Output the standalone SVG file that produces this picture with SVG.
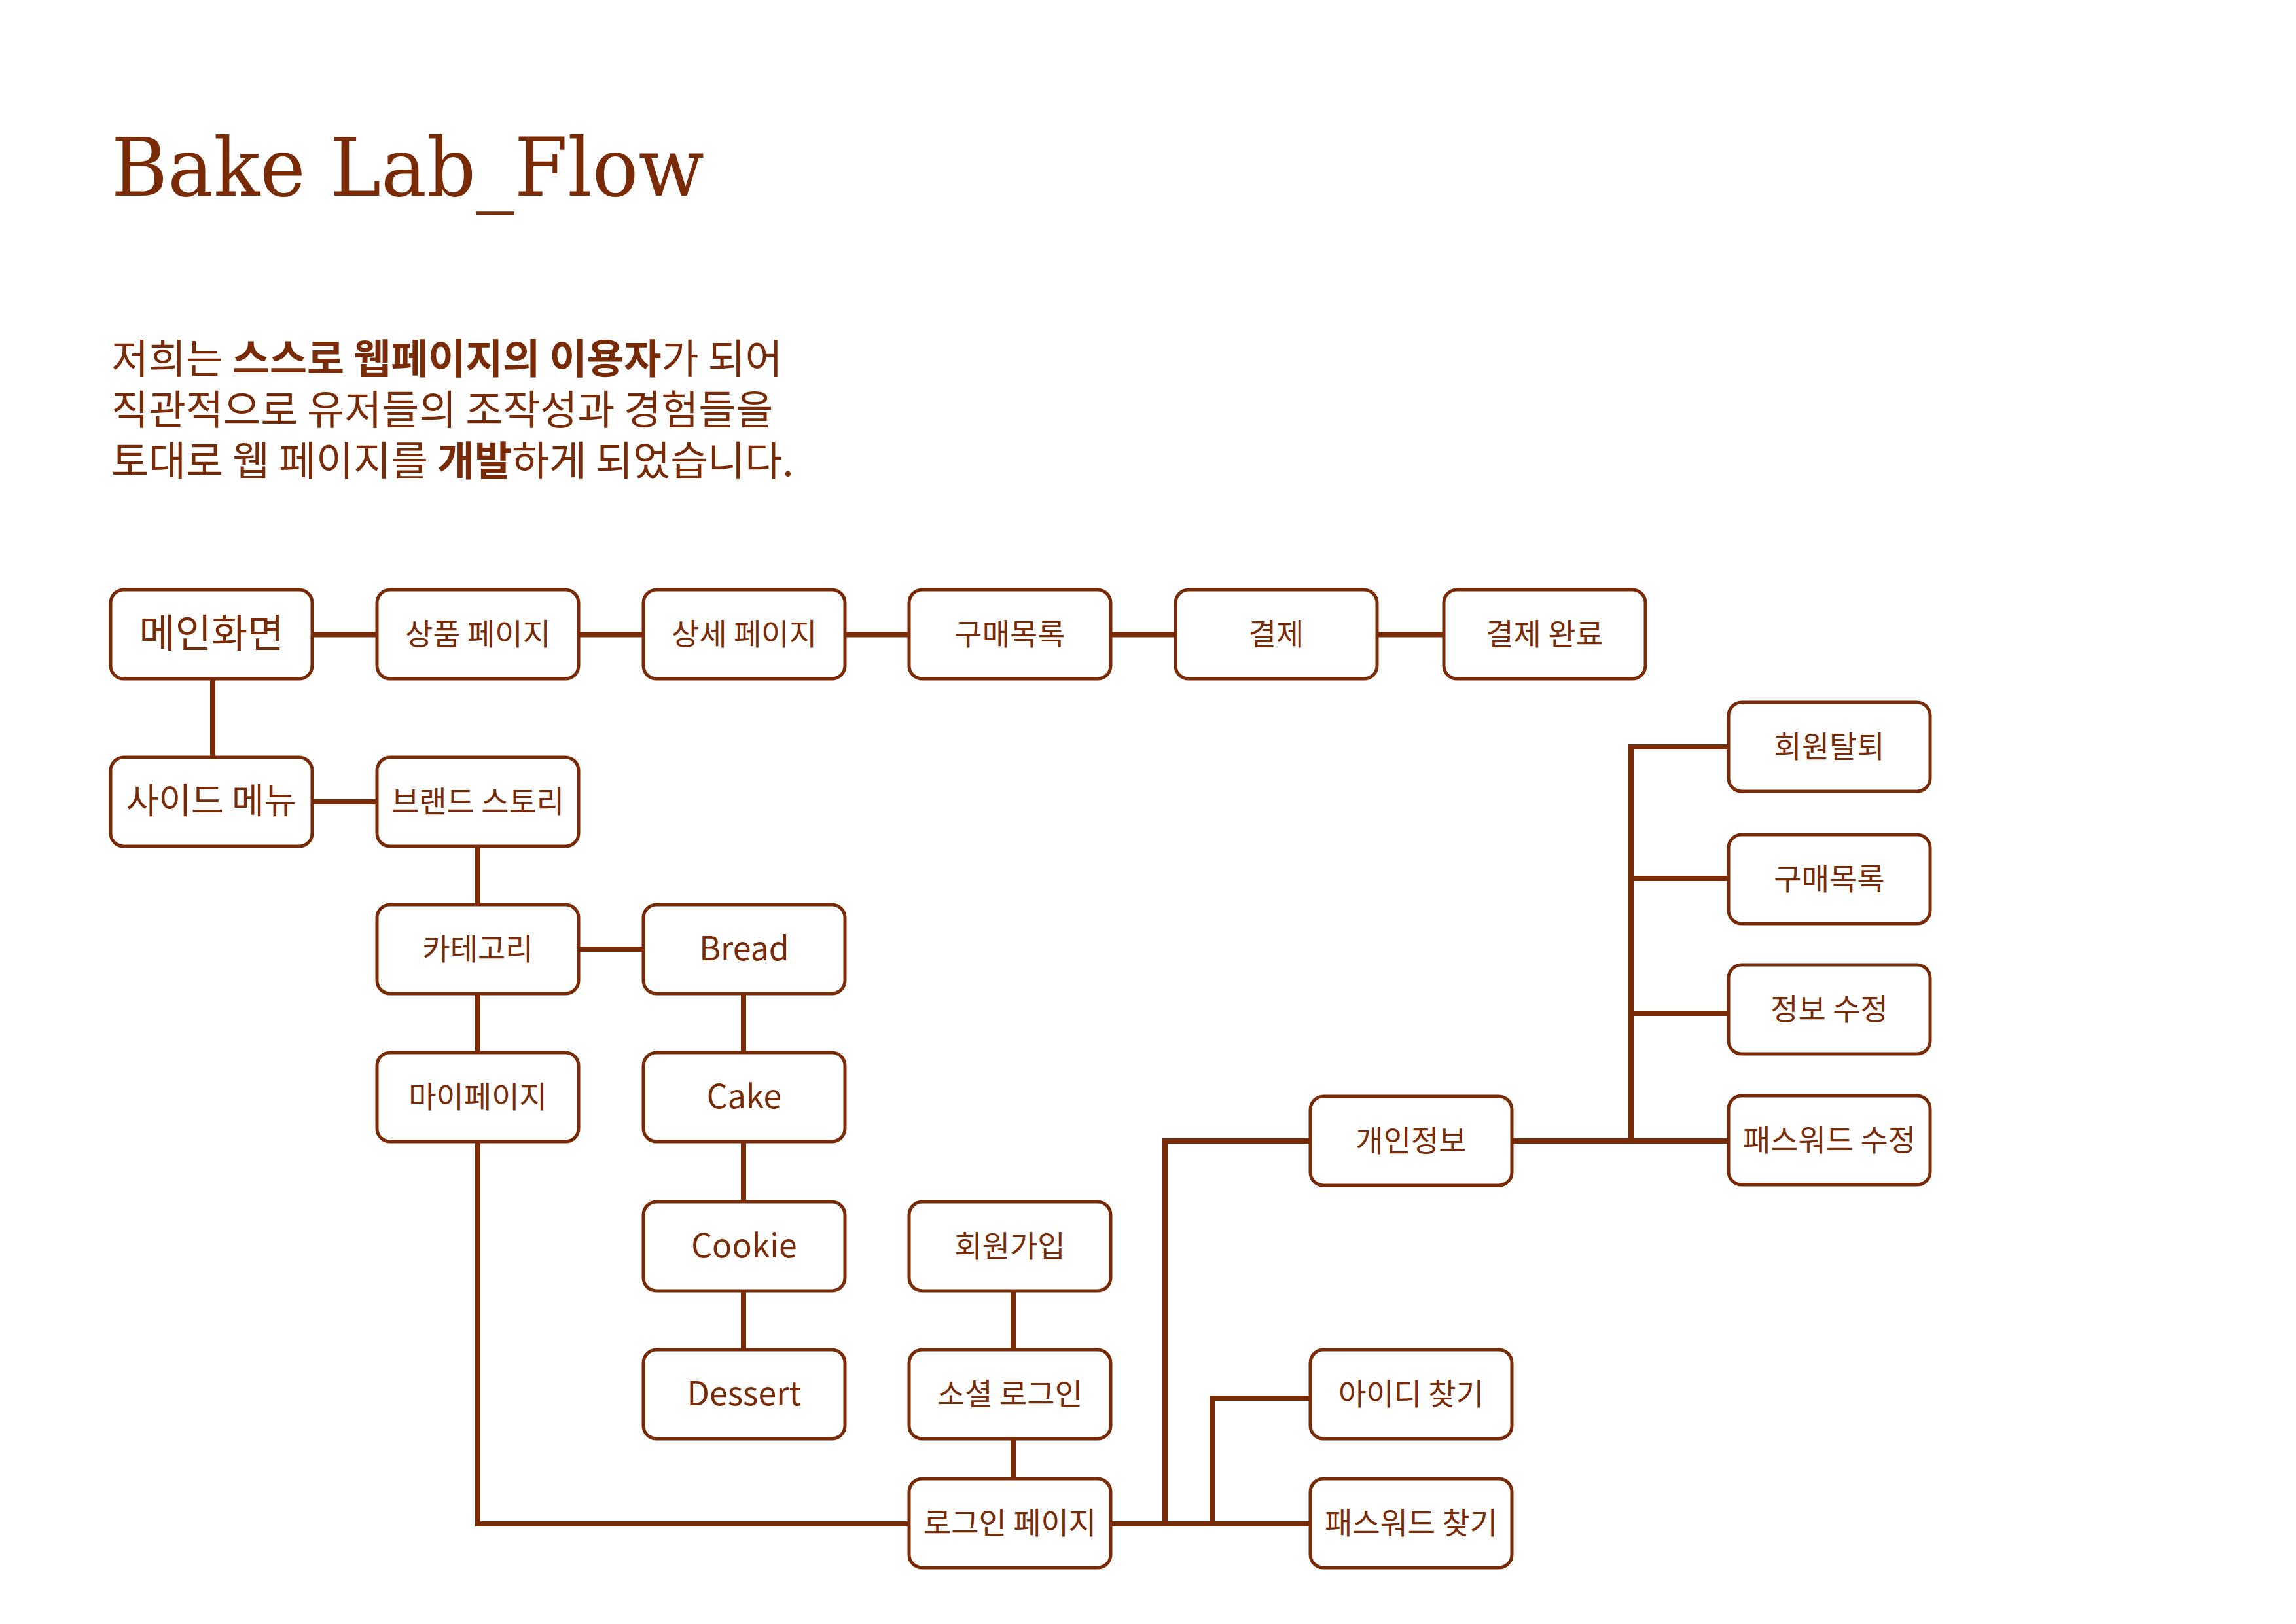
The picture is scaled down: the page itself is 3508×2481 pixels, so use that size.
<svg xmlns="http://www.w3.org/2000/svg" width="3508" height="2481" viewBox="0 0 3508 2481">
<style>
.bg{fill:#ffffff}
.box{fill:#ffffff;stroke:#782B06;stroke-width:5}
.lbl{font-family:"Noto Sans CJK KR","Noto Sans",sans-serif;font-size:46px;fill:#782B06;text-anchor:middle}
.big{font-size:60px}
.mid{font-size:54px}
.en{font-size:50px}
.con{fill:none;stroke:#782B06;stroke-width:8;stroke-linejoin:miter}
.title{font-family:"DejaVu Serif","Liberation Serif",serif;font-size:124px;fill:#782B06}
.para{font-family:"Noto Sans CJK KR","Noto Sans",sans-serif;font-size:62px;fill:#782B06}
.b{font-weight:700}
</style>
<rect class="bg" x="0" y="0" width="3508" height="2481"/>
<text class="title" x="170" y="299" textLength="906" lengthAdjust="spacingAndGlyphs">Bake Lab_Flow</text>
<g id="intro">
<text class="para" x="170" y="571">저희는 <tspan class="b">스스로 웹페이지의 이용자</tspan>가 되어</text>
<text class="para" x="170" y="649">직관적으로 유저들의 조작성과 경험들을</text>
<text class="para" x="170" y="727">토대로 웹 페이지를 <tspan class="b">개발</tspan>하게 되었습니다.</text>
</g>
<g id="connectors">
<path class="con" d="M476 969.5H576M884 969.5H983M1291 969.5H1389M1697 969.5H1796M2104 969.5H2206"/>
<path class="con" d="M325 1037V1157"/>
<path class="con" d="M476 1225H576"/>
<path class="con" d="M730 1293V1382"/>
<path class="con" d="M884 1450H983"/>
<path class="con" d="M730 1518V1608"/>
<path class="con" d="M730 1744V2328H1389"/>
<path class="con" d="M1136 1518V1608M1136 1744V1836M1136 1972V2062"/>
<path class="con" d="M1548 1972V2062M1548 2198V2259"/>
<path class="con" d="M1697 2328H2002"/>
<path class="con" d="M1780 2328V1743H2002"/>
<path class="con" d="M1852 2328V2136H2002"/>
<path class="con" d="M2310 1743H2641"/>
<path class="con" d="M2641 1141H2492V1743M2492 1342H2641M2492 1548H2641"/>
</g>
<g id="n-main"><rect class="box" x="169" y="901" width="308" height="136" rx="20"/><text class="lbl big" x="323" y="989">메인화면</text></g>
<g id="n-product"><rect class="box" x="576" y="901" width="308" height="136" rx="20"/><text class="lbl" x="730" y="985">상품 페이지</text></g>
<g id="n-detail"><rect class="box" x="983" y="901" width="308" height="136" rx="20"/><text class="lbl" x="1137" y="985">상세 페이지</text></g>
<g id="n-order"><rect class="box" x="1389" y="901" width="308" height="136" rx="20"/><text class="lbl" x="1543" y="985">구매목록</text></g>
<g id="n-pay"><rect class="box" x="1796" y="901" width="308" height="136" rx="20"/><text class="lbl" x="1950" y="985">결제</text></g>
<g id="n-paydone"><rect class="box" x="2206" y="901" width="308" height="136" rx="20"/><text class="lbl" x="2360" y="985">결제 완료</text></g>
<g id="n-side"><rect class="box" x="169" y="1157" width="308" height="136" rx="20"/><text class="lbl mid" x="323" y="1243">사이드 메뉴</text></g>
<g id="n-brand"><rect class="box" x="576" y="1157" width="308" height="136" rx="20"/><text class="lbl" x="730" y="1241">브랜드 스토리</text></g>
<g id="n-category"><rect class="box" x="576" y="1382" width="308" height="136" rx="20"/><text class="lbl" x="730" y="1466">카테고리</text></g>
<g id="n-bread"><rect class="box" x="983" y="1382" width="308" height="136" rx="20"/><text class="lbl en" x="1137" y="1467">Bread</text></g>
<g id="n-mypage"><rect class="box" x="576" y="1608" width="308" height="136" rx="20"/><text class="lbl" x="730" y="1692">마이페이지</text></g>
<g id="n-cake"><rect class="box" x="983" y="1608" width="308" height="136" rx="20"/><text class="lbl en" x="1137" y="1693">Cake</text></g>
<g id="n-cookie"><rect class="box" x="983" y="1836" width="308" height="136" rx="20"/><text class="lbl en" x="1137" y="1921">Cookie</text></g>
<g id="n-signup"><rect class="box" x="1389" y="1836" width="308" height="136" rx="20"/><text class="lbl" x="1543" y="1920">회원가입</text></g>
<g id="n-dessert"><rect class="box" x="983" y="2062" width="308" height="136" rx="20"/><text class="lbl en" x="1137" y="2147">Dessert</text></g>
<g id="n-social"><rect class="box" x="1389" y="2062" width="308" height="136" rx="20"/><text class="lbl" x="1543" y="2146">소셜 로그인</text></g>
<g id="n-findid"><rect class="box" x="2002" y="2062" width="308" height="136" rx="20"/><text class="lbl" x="2156" y="2146">아이디 찾기</text></g>
<g id="n-login"><rect class="box" x="1389" y="2259" width="308" height="136" rx="20"/><text class="lbl" x="1543" y="2343">로그인 페이지</text></g>
<g id="n-findpw"><rect class="box" x="2002" y="2259" width="308" height="136" rx="20"/><text class="lbl" x="2156" y="2343">패스워드 찾기</text></g>
<g id="n-personal"><rect class="box" x="2002" y="1675" width="308" height="136" rx="20"/><text class="lbl" x="2156" y="1759">개인정보</text></g>
<g id="n-withdraw"><rect class="box" x="2641" y="1073" width="308" height="136" rx="20"/><text class="lbl" x="2795" y="1157">회원탈퇴</text></g>
<g id="n-order2"><rect class="box" x="2641" y="1275" width="308" height="136" rx="20"/><text class="lbl" x="2795" y="1359">구매목록</text></g>
<g id="n-editinfo"><rect class="box" x="2641" y="1474" width="308" height="136" rx="20"/><text class="lbl" x="2795" y="1558">정보 수정</text></g>
<g id="n-editpw"><rect class="box" x="2641" y="1674" width="308" height="136" rx="20"/><text class="lbl" x="2795" y="1758">패스워드 수정</text></g>
</svg>
